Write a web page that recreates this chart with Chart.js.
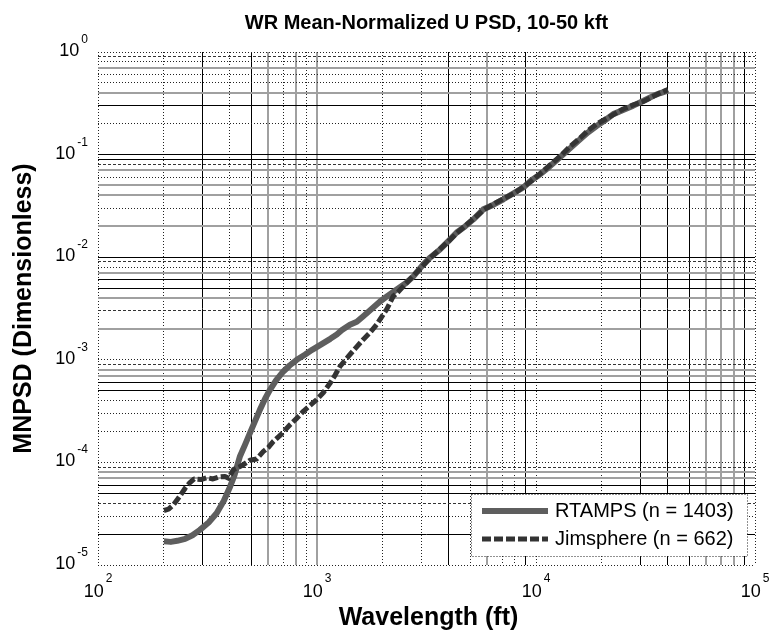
<!DOCTYPE html>
<html>
<head>
<meta charset="utf-8">
<title>WR Mean-Normalized U PSD, 10-50 kft</title>
<script src="https://cdn.jsdelivr.net/npm/chart.js@4.4.0/dist/chart.umd.min.js"></script>
<style>
    html, body { margin: 0; padding: 0; background: #fff; }
    #wrap { width: 772px; height: 638px; }
</style>
</head>
<body>
<div id="wrap"><canvas id="psdChart" width="772" height="638"></canvas></div>
<script>
/* =========================================================
   DATA
========================================================= */
const rtampsX = [200, 215, 230, 250, 270, 292, 320, 348, 375, 401, 420, 445, 470, 494, 520, 549, 580, 610, 650, 702, 750, 808, 880, 950, 1050, 1150, 1231, 1300, 1414, 1520, 1627, 1780, 1940, 2100, 2312, 2550, 2755, 3057, 3300, 3645, 4000, 4345, 4750, 5178, 5750, 6400, 7100, 7900, 8750, 9500, 10420, 11500, 12870, 14300, 15900, 17300, 18900, 20600, 22540, 25000, 27800, 31000, 34350, 37000, 40000];
const rtampsY = [1.7e-5, 1.68e-5, 1.72e-5, 1.8e-5, 1.95e-5, 2.2e-5, 2.6e-5, 3.2e-5, 4.2e-5, 5.8e-5, 7.5e-5, 1.15e-4, 1.5e-4, 1.93e-4, 2.5e-4, 3.27e-4, 4.2e-4, 5.1e-4, 6.3e-4, 7.7e-4, 8.8e-4, 1.0e-3, 1.12e-3, 1.25e-3, 1.42e-3, 1.6e-3, 1.76e-3, 1.95e-3, 2.2e-3, 2.35e-3, 2.66e-3, 3.15e-3, 3.7e-3, 4.2e-3, 4.85e-3, 5.6e-3, 6.5e-3, 8.5e-3, 1.0e-2, 1.19e-2, 1.45e-2, 1.74e-2, 2.0e-2, 2.34e-2, 2.93e-2, 3.25e-2, 3.67e-2, 4.2e-2, 4.78e-2, 5.6e-2, 6.4e-2, 7.6e-2, 9.4e-2, 0.115, 0.141, 0.165, 0.19, 0.215, 0.248, 0.272, 0.30, 0.335, 0.374, 0.398, 0.42];

const jimX = [200, 210, 222, 235, 250, 262, 275, 295, 315, 335, 355, 380, 395, 415, 440, 461, 494, 530, 569, 600, 632, 690, 753, 810, 866, 930, 997, 1070, 1146, 1210, 1273, 1391, 1500, 1627, 1750, 1871, 2080, 2230, 2350, 2478, 2755, 3057, 3300, 3645, 4000, 4345, 4750, 5178, 5750, 6400, 7100, 7900, 8750, 9500, 10420, 11500, 12870, 14300, 15900, 17300, 18900, 20600, 22540, 25000, 27800, 31000, 34350, 37000, 40000];
const jimY = [3.4e-5, 3.5e-5, 3.9e-5, 4.6e-5, 5.6e-5, 6.3e-5, 6.9e-5, 6.8e-5, 7.1e-5, 6.9e-5, 7.2e-5, 7.3e-5, 7.0e-5, 8.5e-5, 9.0e-5, 9.5e-5, 1.05e-4, 1.08e-4, 1.28e-4, 1.4e-4, 1.6e-4, 1.9e-4, 2.33e-4, 2.7e-4, 3.15e-4, 3.6e-4, 4.1e-4, 4.8e-4, 5.9e-4, 7.1e-4, 8.6e-4, 1.08e-3, 1.3e-3, 1.58e-3, 1.85e-3, 2.2e-3, 3.1e-3, 4.17e-3, 4.6e-3, 5.2e-3, 6.6e-3, 8.3e-3, 9.9e-3, 1.2e-2, 1.44e-2, 1.72e-2, 2.02e-2, 2.36e-2, 2.88e-2, 3.3e-2, 3.72e-2, 4.15e-2, 4.85e-2, 5.5e-2, 6.5e-2, 7.8e-2, 9.6e-2, 0.12, 0.145, 0.172, 0.198, 0.22, 0.245, 0.278, 0.305, 0.33, 0.37, 0.40, 0.43];

const seriesNames = ['RTAMPS (n = 1403)', 'Jimsphere (n = 662)'];

// tick labels: decades only, minor ticks at 2..9
const xExponents = [2, 3, 4, 5];
const yExponents = [-5, -4, -3, -2, -1, 0];
const mantissas = [1, 2, 3, 4, 5, 6, 7, 8, 9];

/* =========================================================
   GRID LOOK (per decade, mantissa 1..9)
   k = black solid, g = gray solid, d = dotted, a = dashed
========================================================= */
const xGridLook = { 2: 'ddkdkgdgd', 3: 'gddkdgddk', 4: 'ddkkkgggk', 5: 'd' };
const yGridLook = { '-5': 'dkdakkgga', '-4': 'ddddkkgga', '-3': 'dgagkkgda', '-2': 'kgdggdgak', '-1': 'kdkgddgda', '0': 'd' };

const lookStyles = {
    k: { color: '#000000', width: 1, dash: [] },
    g: { color: '#a0a0a0', width: 2, dash: [] },
    d: { color: '#222222', width: 1, dash: [1, 2] },
    a: { color: '#333333', width: 1, dash: [3, 2] }
};

/* =========================================================
   HELPER
========================================================= */
function logTicks(exponents) {
    const out = [];
    exponents.forEach((e, i) => {
        const last = i === exponents.length - 1;
        (last ? [1] : mantissas).forEach(m => {
            out.push(Number((m * Math.pow(10, e)).toPrecision(6)));
        });
    });
    return out;
}

function lookFor(value, table) {
    if (value === undefined) return lookStyles.d;
    const e = Math.floor(Math.log10(value) + 1e-9);
    const m = Math.round(value / Math.pow(10, e));
    const pattern = table[String(e)] || 'd';
    return lookStyles[pattern[m - 1] || 'd'];
}

function gridOptions(table) {
    return {
        drawTicks: false,
        color: ctx => lookFor(ctx.tick && ctx.tick.value, table).color,
        lineWidth: ctx => lookFor(ctx.tick && ctx.tick.value, table).width
    };
}

function borderOptions(table) {
    return {
        display: false,
        dash: ctx => lookFor(ctx.tick && ctx.tick.value, table).dash
    };
}

const xTicks = logTicks(xExponents);
const yTicks = logTicks(yExponents);

/* =========================================================
   TEXT PLUGIN (title, axis titles, 10^n labels, legend)
========================================================= */
const FONT = '"Liberation Sans", Arial, Helvetica, sans-serif';

function drawPower(ctx, exp, x, y, align, sy) {
    ctx.font = '18px ' + FONT;
    const base = '10';
    const wBase = ctx.measureText(base).width;
    ctx.font = '12px ' + FONT;
    const sup = String(exp);
    const wSup = ctx.measureText(sup).width;
    const total = wBase + 2 + wSup;
    const left = align === 'center' ? x - total / 2 : x - total;
    ctx.textAlign = 'left';
    ctx.textBaseline = 'alphabetic';
    ctx.font = '18px ' + FONT;
    ctx.fillText(base, left, y);
    ctx.font = '12px ' + FONT;
    ctx.fillText(sup, left + wBase + 2, y + sy);
}

const textPlugin = {
    id: 'psdText',
    afterDraw(chart) {
        const ctx = chart.ctx;
        const area = chart.chartArea;
        const xs = chart.scales.x;
        const ys = chart.scales.y;
        const cx = (area.left + area.right) / 2;
        const cy = (area.top + area.bottom) / 2;

        ctx.save();
        ctx.fillStyle = '#000';

        // title
        ctx.font = 'bold 20px ' + FONT;
        ctx.textAlign = 'center';
        ctx.textBaseline = 'alphabetic';
        ctx.fillText('WR Mean-Normalized U PSD, 10-50 kft', cx, 29);

        // x axis title
        ctx.font = 'bold 25px ' + FONT;
        ctx.fillText('Wavelength (ft)', cx + 2, 625);

        // y axis title
        ctx.save();
        ctx.translate(24, cy);
        ctx.rotate(-Math.PI / 2);
        ctx.textBaseline = 'middle';
        ctx.fillText('MNPSD (Dimensionless)', 0, 0);
        ctx.restore();

        // tick labels
        xExponents.forEach(e => {
            const px = xs.getPixelForValue(Math.pow(10, e));
            drawPower(ctx, e, px, area.bottom + 32, 'center', -15);
        });
        yExponents.forEach(e => {
            const py = ys.getPixelForValue(Math.pow(10, e));
            drawPower(ctx, e, area.left - 10, py + 4, 'right', -13);
        });

        // legend
        const lx = 471, ly = 494, lw = 276, lh = 62;
        ctx.fillStyle = '#fff';
        ctx.fillRect(lx, ly, lw, lh);
        ctx.strokeStyle = '#222';
        ctx.lineWidth = 1;
        ctx.setLineDash([1, 2]);
        ctx.strokeRect(lx + 0.5, ly + 0.5, lw, lh);

        const order = [1, 0];
        chart.data.datasets.forEach((ds, i) => {
            const row = order[i];
            const y = ly + 17 + row * 28;
            ctx.strokeStyle = ds.borderColor;
            ctx.lineWidth = ds.borderWidth;
            ctx.setLineDash(ds.borderDash || []);
            ctx.beginPath();
            ctx.moveTo(482, y);
            ctx.lineTo(548, y);
            ctx.stroke();
            ctx.setLineDash([]);
            ctx.fillStyle = '#000';
            ctx.font = '20px ' + FONT;
            ctx.textAlign = 'left';
            ctx.textBaseline = 'middle';
            ctx.fillText(ds.label, 555, y);
        });
        ctx.restore();
    }
};

/* =========================================================
   CHART INIT
========================================================= */
const psdChart = new Chart(document.getElementById('psdChart'), {
    type: 'line',
    data: {
        datasets: [{
            label: seriesNames[1],
            data: jimX.map((x, i) => ({ x, y: jimY[i] })),
            borderColor: '#333333',
            borderWidth: 5,
            borderDash: [9, 3],
            order: 0
        }, {
            label: seriesNames[0],
            data: rtampsX.map((x, i) => ({ x, y: rtampsY[i] })),
            borderColor: '#5e5e5e',
            borderWidth: 6,
            order: 1
        }]
    },
    options: {
        responsive: false,
        animation: false,
        devicePixelRatio: 1,
        layout: {
            padding: { left: 98, right: 17, top: 52, bottom: 73 }
        },
        elements: {
            point: { radius: 0 },
            line: { tension: 0, borderJoinStyle: 'round', borderCapStyle: 'butt', fill: false }
        },
        plugins: {
            legend: { display: false },
            title: { display: false },
            tooltip: { enabled: false }
        },
        scales: {
            x: {
                type: 'logarithmic',
                min: 100,
                max: 100000,
                afterBuildTicks: axis => { axis.ticks = xTicks.map(v => ({ value: v })); },
                ticks: { display: false },
                grid: gridOptions(xGridLook),
                border: borderOptions(xGridLook)
            },
            y: {
                type: 'logarithmic',
                min: 1e-5,
                max: 1,
                afterBuildTicks: axis => { axis.ticks = yTicks.map(v => ({ value: v })); },
                ticks: { display: false },
                grid: gridOptions(yGridLook),
                border: borderOptions(yGridLook)
            }
        }
    },
    plugins: [textPlugin]
});
</script>
</body>
</html>
